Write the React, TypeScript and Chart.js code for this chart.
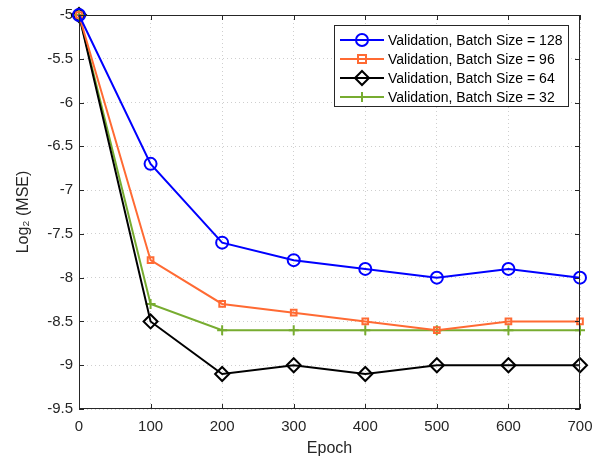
import React, { useEffect, useRef } from "react";
import { Chart, registerables } from "chart.js";

Chart.register(...registerables);

const epochs = [0, 100, 200, 300, 400, 500, 600, 700];
const bs128 = [-5, -6.7, -7.6, -7.8, -7.9, -8.0, -7.9, -8.0];
const bs96 = [-5, -7.8, -8.3, -8.4, -8.5, -8.6, -8.5, -8.5];
const bs64 = [-5, -8.5, -9.1, -9.0, -9.1, -9.0, -9.0, -9.0];
const bs32 = [-5, -8.3, -8.6, -8.6, -8.6, -8.6, -8.6, -8.6];
const seriesLabels = [
  "Validation, Batch Size = 128",
  "Validation, Batch Size = 96",
  "Validation, Batch Size = 64",
  "Validation, Batch Size = 32",
];

const FONT = "'Liberation Sans', Arial, sans-serif";
const AX = "#262626";

function drawMarker(ctx: CanvasRenderingContext2D, style: string, x: number, y: number, r: number, color: string) {
  ctx.save();
  ctx.strokeStyle = color;
  ctx.lineWidth = 2;
  ctx.beginPath();
  if (style === "circle") {
    ctx.arc(x, y, r, 0, Math.PI * 2);
  } else if (style === "rect") {
    ctx.rect(x - r, y - r, 2 * r, 2 * r);
  } else if (style === "rectRot") {
    ctx.moveTo(x, y - r);
    ctx.lineTo(x + r, y);
    ctx.lineTo(x, y + r);
    ctx.lineTo(x - r, y);
    ctx.closePath();
  } else if (style === "cross") {
    ctx.moveTo(x - r, y);
    ctx.lineTo(x + r, y);
    ctx.moveTo(x, y - r);
    ctx.lineTo(x, y + r);
  }
  ctx.stroke();
  ctx.restore();
}

const framePlugin = {
  id: "frame",
  afterDraw(chart: any) {
    const { ctx, chartArea } = chart;
    const { left, right, top, bottom } = chartArea;
    ctx.save();
    ctx.strokeStyle = AX;
    ctx.lineWidth = 1;
    ctx.strokeRect(left + 0.5, top + 0.5, right - left - 1, bottom - top - 1);
    const xs = chart.scales.x;
    const ys = chart.scales.y;
    ctx.beginPath();
    xs.ticks.forEach((t: any) => {
      const px = Math.round(xs.getPixelForValue(t.value)) + 0.5;
      ctx.moveTo(px, bottom);
      ctx.lineTo(px, bottom - 5);
      ctx.moveTo(px, top);
      ctx.lineTo(px, top + 5);
    });
    ys.ticks.forEach((t: any) => {
      const py = Math.round(ys.getPixelForValue(t.value)) + 0.5;
      ctx.moveTo(left, py);
      ctx.lineTo(left + 5, py);
      ctx.moveTo(right, py);
      ctx.lineTo(right - 5, py);
    });
    ctx.stroke();

    // legend
    const bx = right - 246;
    const by = top + 10;
    const bw = 234;
    const bh = 81;
    ctx.fillStyle = "#ffffff";
    ctx.fillRect(bx, by, bw, bh);
    ctx.strokeStyle = AX;
    ctx.lineWidth = 1;
    ctx.strokeRect(bx + 0.5, by + 0.5, bw, bh);
    ctx.font = `14px ${FONT}`;
    ctx.textBaseline = "middle";
    ctx.textAlign = "left";
    chart.data.datasets.forEach((ds: any, i: number) => {
      const ry = by + 15 + i * 19;
      ctx.strokeStyle = ds.borderColor;
      ctx.lineWidth = 2;
      ctx.beginPath();
      ctx.moveTo(bx + 6, ry);
      ctx.lineTo(bx + 50, ry);
      ctx.stroke();
      drawMarker(ctx, ds.pointStyle, bx + 28, ry, ds.pointRadius, ds.borderColor);
      ctx.fillStyle = "#000";
      ctx.fillText(ds.label, bx + 54, ry + 1);
    });
    ctx.restore();
  },
};

export default function App() {
  const ref = useRef<HTMLCanvasElement>(null);
  useEffect(() => {
    if (!ref.current) return;
    const mk = (label: string, data: number[], color: string, style: string, r: number) => ({
      label,
      data: data.map((v, i) => ({ x: epochs[i], y: v })),
      borderColor: color,
      backgroundColor: "rgba(0,0,0,0)",
      pointBorderColor: color,
      pointBackgroundColor: "rgba(0,0,0,0)",
      pointStyle: style,
      pointRadius: r,
      pointBorderWidth: 2,
      borderWidth: 2,
      tension: 0,
      clip: false,
    });
    const chart = new Chart(ref.current, {
      type: "line",
      data: {
        datasets: [
          mk(seriesLabels[0], bs128, "#0000ff", "circle", 6),
          mk(seriesLabels[1], bs96, "#ff6a33", "rect", 4),
          mk(seriesLabels[2], bs64, "#000000", "rectRot", 7),
          mk(seriesLabels[3], bs32, "#77ac30", "cross", 5),
        ] as any,
      },
      options: {
        animation: false,
        responsive: false,
        layout: { padding: { top: 15, right: 27, left: 0, bottom: 0 } },
        plugins: { legend: { display: false }, tooltip: { enabled: false } },
        scales: {
          x: {
            type: "linear",
            min: 0,
            max: 700,
            ticks: { stepSize: 100, color: AX, font: { family: FONT, size: 15 }, padding: 9 },
            grid: { color: "#cfcfcf", drawTicks: false },
            border: { display: false, dash: [1, 3] },
            title: { display: true, text: "Epoch", color: AX, font: { family: FONT, size: 16 }, padding: { bottom: 1, top: 0 } },
            afterFit: (s: any) => { s.height = 50; },
          },
          y: {
            type: "linear",
            min: -9.5,
            max: -5,
            ticks: {
              stepSize: 0.5,
              color: AX,
              font: { family: FONT, size: 15 },
              padding: 6,
              callback: (v: any) => String(Math.round(Number(v) * 10) / 10),
            },
            grid: { color: "#cfcfcf", drawTicks: false },
            border: { display: false, dash: [1, 3] },
            title: { display: true, text: "Log₂ (MSE)", color: AX, font: { family: FONT, size: 16 }, padding: { top: 14, bottom: 0 } },
            afterFit: (s: any) => { s.width = 79; },
          },
        },
      } as any,
      plugins: [framePlugin],
    });
    return () => chart.destroy();
  }, []);
  return (
    <div style={{ position: "absolute", left: 0, top: 0, width: 607, height: 459, background: "#fff" }}>
      <canvas ref={ref} width={607} height={459} />
    </div>
  );
}
